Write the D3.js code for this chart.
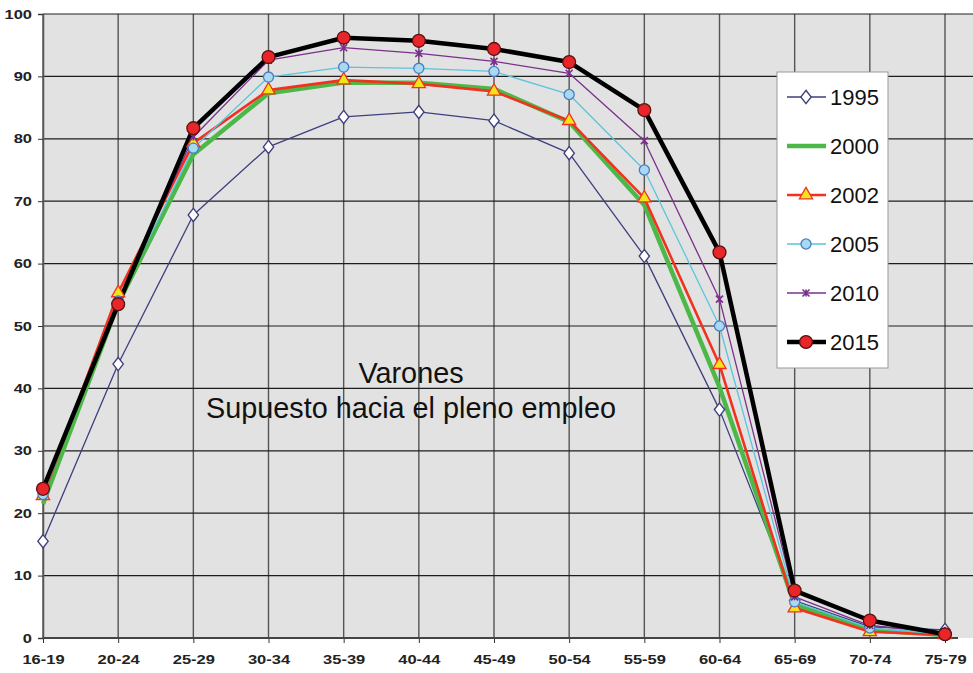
<!DOCTYPE html>
<html><head><meta charset="utf-8">
<script src="https://cdn.jsdelivr.net/npm/d3@7"></script>
<style>body{margin:0;background:#fff}svg{display:block}</style>
</head><body>
<svg id="c" width="973" height="673"></svg>
<script>
const categories = ["16-19","20-24","25-29","30-34","35-39","40-44","45-49","50-54","55-59","60-64","65-69","70-74","75-79"];
const yTicks = [0,10,20,30,40,50,60,70,80,90,100];
const v1995 = [15.5,43.9,67.8,78.7,83.5,84.3,82.9,77.7,61.2,36.6,6.0,1.8,1.3];
const v2000 = [21.5,53.6,77.5,87.3,89.0,89.0,88.0,82.7,69.4,40.2,5.3,1.3,0.5];
const v2002 = [22.8,55.3,79.3,87.8,89.4,88.8,87.6,82.9,70.5,43.8,4.8,1.0,0.5];
const v2005 = [23.0,54.0,78.5,89.9,91.5,91.3,90.8,87.1,75.0,50.0,5.8,1.6,0.6];
const v2010 = [23.5,54.0,80.3,92.6,94.6,93.7,92.4,90.5,79.7,54.3,6.6,2.0,0.8];
const v2015 = [23.9,53.5,81.7,93.1,96.2,95.7,94.4,92.3,84.6,61.8,7.6,2.8,0.6];
const seriesNames = ["1995","2000","2002","2005","2010","2015"];
const titleLines = ["Varones","Supuesto hacia el pleno empleo"];

const series = [
  {name:"1995", values:v1995, color:"#3d3f7e", width:1.3, marker:"diamond", fill:"#ffffff", mstroke:"#3d3f7e", size:70},
  {name:"2000", values:v2000, color:"#4cb847", width:4.5, marker:null},
  {name:"2002", values:v2002, color:"#f0321e", width:2.6, marker:"triangle", fill:"#f5e21a", mstroke:"#f0321e", size:75},
  {name:"2005", values:v2005, color:"#5ac5dc", width:1.3, marker:"circle", fill:"#a9d9ee", mstroke:"#4a7cc4", size:80},
  {name:"2010", values:v2010, color:"#7b2f8c", width:1.3, marker:"cross", fill:"#7b2f8c", mstroke:"#7b2f8c", size:40},
  {name:"2015", values:v2015, color:"#000000", width:4.5, marker:"circle", fill:"#e8262a", mstroke:"#5a1010", size:130}
];

const svg = d3.select("#c");
const pLeft = 43, pRight = 945, pTop = 14, pBottom = 638;
const x = d3.scalePoint().domain(categories).range([pLeft, pRight]);
const y = d3.scaleLinear().domain([0,100]).range([pBottom, pTop]);
const axisFont = "Liberation Sans, Arial, sans-serif";
const mainFont = "Liberation Sans, Arial, sans-serif";
const stretch = 1.27;

svg.append("rect").attr("x", pLeft).attr("y", pTop).attr("width", 973-pLeft).attr("height", pBottom-pTop).attr("fill", "#e2e2e2");

svg.append("g").selectAll("line").data(categories).join("line")
  .attr("x1", d=>x(d)).attr("x2", d=>x(d)).attr("y1", pTop).attr("y2", pBottom)
  .attr("stroke", "#555").attr("stroke-width", 1.4);
svg.append("g").selectAll("line").data(yTicks.filter(t=>t>0)).join("line")
  .attr("x1", pLeft).attr("x2", 973).attr("y1", d=>y(d)).attr("y2", d=>y(d))
  .attr("stroke", "#1e1e1e").attr("stroke-width", 1.2);

const yAxis = d3.axisLeft(y).tickValues(yTicks).tickSize(5).tickPadding(6);
const gy = svg.append("g").attr("transform", `translate(${pLeft},0)`).call(yAxis);
gy.select(".domain").attr("stroke", "#555").attr("stroke-width", 1.5);
gy.selectAll(".tick line").attr("stroke", "#333");
gy.selectAll("text").attr("font-family", axisFont).attr("font-size", 13).attr("font-weight", "bold").attr("fill", "#222")
  .attr("x", -11/stretch).attr("transform", `scale(${stretch},1)`);

const xAxis = d3.axisBottom(x).tickSize(5).tickPadding(12);
const gx = svg.append("g").attr("transform", `translate(0,${pBottom})`).call(xAxis);
gx.select(".domain").remove();
gx.append("line").attr("x1", pLeft).attr("x2", 958).attr("y1", 0).attr("y2", 0).attr("stroke", "#444").attr("stroke-width", 2.2);
gx.selectAll(".tick line").attr("stroke", "#333");
gx.selectAll("text").attr("font-family", axisFont).attr("font-size", 13).attr("font-weight", "bold").attr("fill", "#222")
  .attr("transform", `scale(${stretch},1)`);

svg.append("g").selectAll("text").data(titleLines).join("text")
  .attr("x", 411).attr("y", (d,i)=>383 + i*35)
  .attr("text-anchor", "middle").attr("font-family", mainFont)
  .attr("font-size", 28.8).attr("fill", "#111").text(d=>d);

const symMap = {diamond:d3.symbolDiamond, triangle:d3.symbolTriangle, circle:d3.symbolCircle, cross:d3.symbolCross};
function drawMarker(g, s, cx, cy, scale) {
  if (!s.marker) return;
  if (s.marker === "cross") {
    const r = 3.5*scale;
    g.append("path").attr("d", `M${cx-r},${cy-r}L${cx+r},${cy+r}M${cx-r},${cy+r}L${cx+r},${cy-r}M${cx},${cy-r}L${cx},${cy+r}`)
      .attr("stroke", s.mstroke).attr("stroke-width", 1.6).attr("fill", "none");
    return;
  }
  const sym = d3.symbol().type(symMap[s.marker]).size(s.size*scale*scale);
  let tr = `translate(${cx},${cy})`;
  if (s.marker === "diamond") tr += " scale(1.15,0.85)";
  g.append("path").attr("d", sym()).attr("transform", tr)
    .attr("fill", s.fill).attr("stroke", s.mstroke).attr("stroke-width", 1.3);
}

const line = d3.line().x((d,i)=>x(categories[i])).y(d=>y(d));
const plot = svg.append("g");
series.forEach(s => {
  plot.append("path").datum(s.values).attr("d", line)
    .attr("fill", "none").attr("stroke", s.color).attr("stroke-width", s.width).attr("stroke-linejoin", "round");
});
series.forEach(s => {
  const g = plot.append("g");
  s.values.forEach((v,i) => drawMarker(g, s, x(categories[i]), y(v), 1));
});

const lg = svg.append("g");
lg.append("rect").attr("x", 777).attr("y", 72).attr("width", 111).attr("height", 296)
  .attr("fill", "#fff").attr("stroke", "#999").attr("stroke-width", 1);
series.forEach((s,i) => {
  const cy = 97 + i*49;
  lg.append("line").attr("x1", 787).attr("x2", 826).attr("y1", cy).attr("y2", cy)
    .attr("stroke", s.color).attr("stroke-width", s.width);
  drawMarker(lg, s, 806, cy, 1);
  lg.append("text").attr("x", 830).attr("y", cy + 8).attr("font-family", mainFont)
    .attr("font-size", 22).attr("fill", "#111").text(seriesNames[i]);
});
</script>
</body></html>
